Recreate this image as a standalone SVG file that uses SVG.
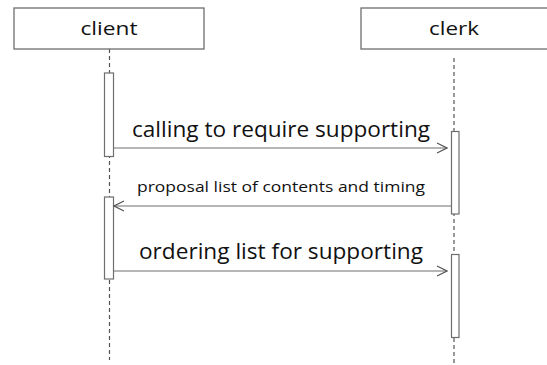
<svg xmlns="http://www.w3.org/2000/svg" width="547" height="365" viewBox="0 0 547 365">
<style>
.box{fill:#fff;stroke:#6e6e6e;stroke-width:1.3}
.act{fill:#fff;stroke:#6e6e6e;stroke-width:1.2}
.life{stroke:#555;stroke-width:1.2;stroke-dasharray:4 3;fill:none}
.msg{stroke:#6e6e6e;stroke-width:1.2;fill:none}
text{font-family:"Open Sans","Liberation Sans",sans-serif;fill:#111}
.name{font-size:19px}
.big{font-size:21.5px}
.small{font-size:15px}
</style>
<defs>
<marker id="open" markerWidth="12" markerHeight="12" refX="11" refY="6" orient="auto" markerUnits="userSpaceOnUse">
<path d="M1,1 L11,6 L1,11" fill="none" stroke="#555" stroke-width="1.2"/>
</marker>
</defs>
<rect width="547" height="365" fill="#fff"/>
<g id="lifelines">
<line class="life" x1="109.5" y1="49" x2="109.5" y2="360"/>
<line class="life" x1="454" y1="58" x2="454" y2="363"/>
</g>
<g id="client">
<rect class="box" x="14" y="8" width="190" height="41"/>
<text class="name" x="109" y="35" text-anchor="middle" textLength="57" lengthAdjust="spacingAndGlyphs">client</text>
</g>
<g id="clerk">
<rect class="box" x="361" y="8" width="190" height="41"/>
<text class="name" x="454" y="35" text-anchor="middle" textLength="50" lengthAdjust="spacingAndGlyphs">clerk</text>
</g>
<g id="activations">
<rect class="act" x="104.5" y="73" width="9" height="83.5"/>
<rect class="act" x="104.5" y="197" width="9" height="82"/>
<rect class="act" x="451.5" y="131.5" width="7.5" height="82.5"/>
<rect class="act" x="451.5" y="254.5" width="7.5" height="83"/>
</g>
<g id="connectors">
<line class="msg" x1="114" y1="148" x2="447" y2="148" marker-end="url(#open)"/>
<line class="msg" x1="451" y1="206" x2="114" y2="206" marker-end="url(#open)"/>
<line class="msg" x1="114" y1="271" x2="447" y2="271" marker-end="url(#open)"/>
</g>
<g id="labels">
<text class="big" x="132" y="137" textLength="298" lengthAdjust="spacingAndGlyphs">calling to require supporting</text>
<text class="small" x="137" y="192" textLength="288" lengthAdjust="spacingAndGlyphs">proposal list of contents and timing</text>
<text class="big" x="139" y="259" textLength="284" lengthAdjust="spacingAndGlyphs">ordering list for supporting</text>
</g>
</svg>
